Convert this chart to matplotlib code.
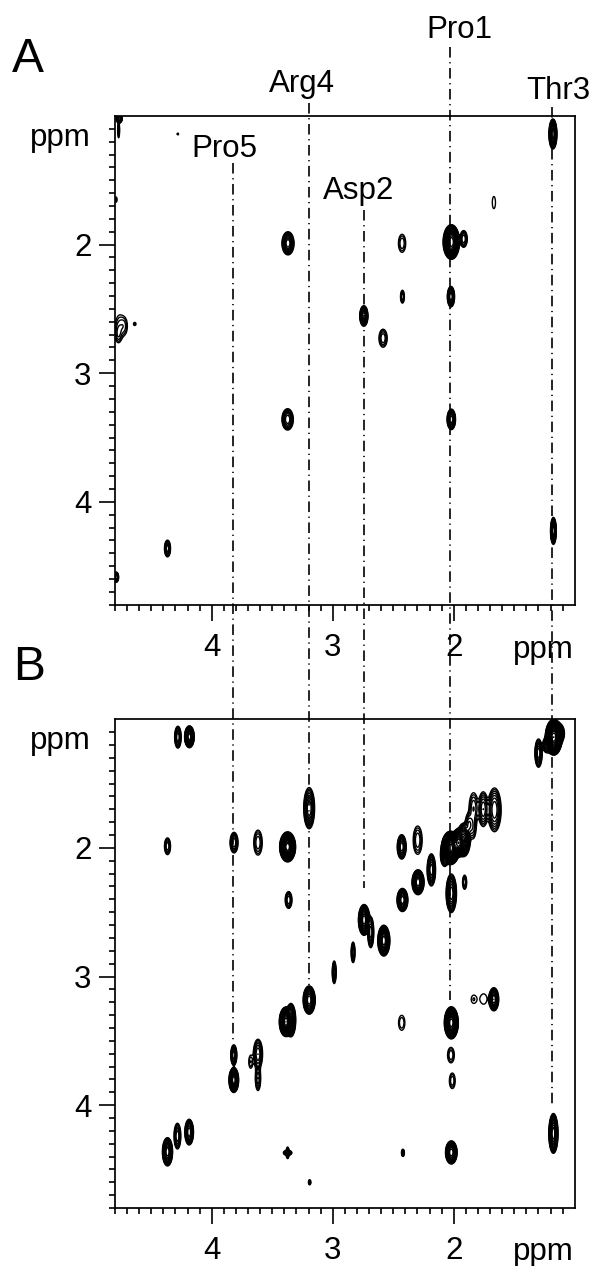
import numpy as np
import matplotlib
matplotlib.use("Agg")
import matplotlib.pyplot as plt
from matplotlib.lines import Line2D
from matplotlib.transforms import blended_transform_factory

plt.rcParams['font.family'] = ['Liberation Sans', 'DejaVu Sans']
plt.rcParams['lines.scale_dashes'] = False

# Panel A cross peaks (ppm): F2, F1, half widths, number of contour rings
a_x = [1.18, 1.668, 2.02, 1.918, 2.427, 2.424, 2.023, 2.743, 2.584, 2.02, 1.176, 3.373, 3.37, 4.366,
       4.765, 4.77, 4.79, 4.765, 4.724, 4.773, 4.637, 4.79, 4.28]
a_y = [1.14, 1.673, 1.98, 1.956, 1.99, 2.405, 2.405, 2.555, 2.728, 3.359, 4.226, 3.359, 1.99, 4.363,
       1.02, 1.11, 1.65, 2.633, 2.633, 2.70, 2.617, 4.586, 1.14]
a_wx = [.033, .013, .068, .03, .03, .016, .03, .034, .034, .035, .024, .047, .05, .025,
        .025, .008, .006, .03, .025, .02, .01, .02, .005]
a_wy = [.117, .047, .135, .065, .07, .05, .08, .08, .07, .08, .105, .083, .09, .065,
        .035, .06, .02, .08, .06, .05, .012, .04, .007]
a_n = [12, 1, 16, 5, 3, 4, 9, 10, 4, 10, 9, 7, 10, 7,
       8, 3, 2, 2, 2, 2, 2, 7, 1]

# Panel B cross peaks (ppm)
b_x = [4.28, 4.185, 4.366, 3.816, 3.618, 3.373, 3.365, 3.195, 2.988,
       1.173, 1.135, 1.23, 1.299, 2.43, 2.298, 2.185, 2.295, 2.424,
       2.026, 2.075, 1.96, 1.918, 1.875, 1.836, 1.842, 1.756, 1.663,
       2.02, 1.91, 2.741, 2.686, 2.578, 2.832, 3.195, 3.387, 3.346,
       3.818, 3.818, 3.618, 3.618, 3.678, 4.366, 4.284, 4.187, 3.373, 3.373, 3.191,
       1.668, 1.753, 1.836, 2.43, 2.02, 2.023, 2.012, 2.02, 2.42, 1.176]
b_y = [1.139, 1.136, 1.987, 1.959, 1.959, 1.992, 2.405, 1.691, 2.967,
       1.139, 1.11, 1.2, 1.263, 1.992, 1.94, 2.171, 2.267, 2.405,
       2.0, 2.054, 1.96, 1.938, 1.82, 1.691, 1.847, 1.699, 1.704,
       2.353, 2.267, 2.56, 2.656, 2.721, 2.812, 3.183, 3.352, 3.339,
       3.611, 3.805, 3.603, 3.792, 3.663, 4.363, 4.241, 4.21, 4.371, 4.371, 4.6,
       3.177, 3.175, 3.177, 3.36, 3.36, 3.611, 3.811, 4.368, 4.371, 4.22]
b_wx = [.027, .04, .025, .033, .035, .066, .028, .045, .016,
        .07, .05, .035, .03, .037, .037, .035, .05, .045,
        .075, .035, .058, .055, .03, .037, .025, .04, .055,
        .043, .017, .047, .025, .05, .016, .05, .055, .04,
        .025, .04, .038, .022, .016, .042, .028, .036, .035, .012, .01,
        .04, .027, .019, .026, .058, .028, .024, .048, .012, .038]
b_wy = [.085, .085, .065, .08, .097, .117, .065, .16, .088,
        .14, .08, .06, .11, .095, .11, .125, .097, .09,
        .13, .09, .11, .13, .085, .12, .08, .135, .17,
        .15, .055, .12, .12, .12, .08, .11, .115, .13,
        .08, .097, .115, .095, .05, .11, .1, .1, .02, .045, .02,
        .09, .04, .03, .058, .125, .06, .06, .09, .028, .155]
b_n = [7, 14, 5, 6, 4, 20, 5, 8, 6,
       20, 10, 5, 8, 9, 4, 9, 12, 11,
       22, 8, 18, 12, 5, 4, 3, 6, 7,
       10, 4, 14, 7, 14, 5, 12, 18, 10,
       8, 14, 6, 5, 2, 12, 6, 9, 6, 6, 3,
       10, 1, 1, 2, 18, 3, 3, 12, 4, 12]

# Assignment lines (F2 shift, ppm) and their labels
res_names = ['Pro5', 'Arg4', 'Asp2', 'Pro1', 'Thr3']
res_ppm = [3.824, 3.2, 2.741, 2.028, 1.184]

major_ticks = [2, 3, 4]
minor_ticks = [1.1, 1.2, 1.3, 1.4, 1.5, 1.6, 1.7, 1.8, 1.9, 2.1, 2.2, 2.3, 2.4, 2.5, 2.6, 2.7, 2.8, 2.9,
               3.1, 3.2, 3.3, 3.4, 3.5, 3.6, 3.7, 3.8, 3.9, 4.1, 4.2, 4.3, 4.4, 4.5, 4.6, 4.7, 4.8]

W, H = 595, 1266
RATIO = 1.4
LEVELS = [RATIO ** k for k in range(0, 24)]
FS = 22.5

fig = plt.figure(figsize=(W / 100, H / 100), dpi=100)


def box(left, top, right, bottom):
    return [left / W, 1 - bottom / H, (right - left) / W, (bottom - top) / H]


def field(xs, ys, wx, wy, n):
    gx = np.linspace(1.0, 4.8, 1521)
    gy = np.linspace(1.0, 4.8, 1521)
    z = np.zeros((gy.size, gx.size))
    for x0, y0, rx, ry, k in zip(xs, ys, wx, wy, n):
        ix = np.abs(gx - x0) < rx * 4
        iy = np.abs(gy - y0) < ry * 4
        u2 = ((gx[ix][None, :] - x0) / rx) ** 2 + ((gy[iy][:, None] - y0) / ry) ** 2
        z[np.ix_(iy, ix)] += RATIO ** (k * (1 - u2))
    return gx, gy, z


def panel(rect, xs, ys, wx, wy, n):
    ax = fig.add_axes(rect)
    gx, gy, z = field(xs, ys, wx, wy, n)
    ax.contour(gx, gy, z, levels=LEVELS, colors='black', linewidths=1.0)
    ax.set_xlim(4.8, 1.0)
    ax.set_ylim(4.8, 1.0)
    ax.set_xticks(major_ticks)
    ax.set_yticks(major_ticks)
    ax.set_xticks(minor_ticks, minor=True)
    ax.set_yticks(minor_ticks, minor=True)
    ax.tick_params(which='major', length=11.5, width=1.2, labelsize=FS)
    ax.tick_params(which='minor', length=4.2, width=1.2)
    ax.tick_params(axis='x', which='major', pad=9.0)
    ax.tick_params(axis='y', which='major', pad=5.5)
    for s in ax.spines.values():
        s.set_linewidth(1.25)
    return ax


ax_a = panel(box(115, 116, 574.7, 604.7), a_x, a_y, a_wx, a_wy, a_n)
ax_b = panel(box(115, 719.3, 574.7, 1208), b_x, b_y, b_wx, b_wy, b_n)

# Dash-dot assignment lines crossing both panels
line_top = [163, 103, 210, 47, 107]
line_end = [1040, 985, 888, 1000, 1107]
trans = blended_transform_factory(ax_a.transData, fig.transFigure)
for ppm, y0, y1 in zip(res_ppm, line_top, line_end):
    fig.add_artist(Line2D([ppm, ppm], [1 - y0 / H, 1 - y1 / H], transform=trans, color='black', lw=1.2,
                          linestyle=(0, (7.6, 3.3, 0.9, 3.3)), dash_capstyle='butt'))


def label(px, py, s, size=FS, ha='left'):
    fig.text(px / W, 1 - py / H, s, fontsize=size, ha=ha, va='baseline', color='black')


label(11.5, 72, 'A', 34.5)
label(13.5, 680, 'B', 34.5)
label_pos = [(191.7, 157.3), (269, 91.7), (323.3, 199.3), (426.7, 38.3), (526.7, 99.3)]
for name, (px, py) in zip(res_names, label_pos):
    label(px, py, name)
label(30, 146, 'ppm')
label(30, 749, 'ppm')
label(513, 658, 'ppm')
label(513, 1260, 'ppm')

fig.savefig('out.png', dpi=100)
